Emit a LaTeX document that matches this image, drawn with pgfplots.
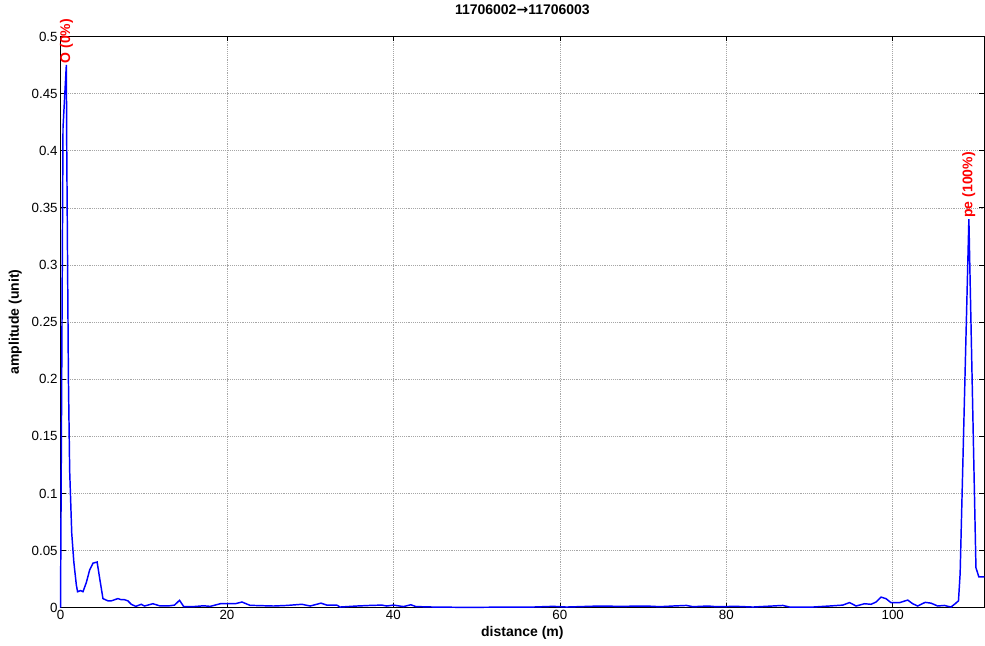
\documentclass[border=0pt]{standalone}
\usepackage{fontspec}
\setmainfont{Liberation Sans}
\newfontfamily\djv{DejaVu Sans}
\usepackage{pgfplots}
\pgfplotsset{compat=1.18}
\definecolor{mblue}{RGB}{0,0,255}
\definecolor{mred}{RGB}{255,0,0}
\begin{document}
\begin{tikzpicture}
\begin{axis}[
  scale only axis,
  width=693pt, height=428.6pt,
  xmin=0, xmax=111, ymin=0, ymax=0.5,
  xtick={0,20,40,60,80,100},
  ytick={0,0.05,0.1,0.15,0.2,0.25,0.3,0.35,0.4,0.45,0.5},
  scaled y ticks=false,
  /pgf/number format/assume math mode=true,
  yticklabel style={/pgf/number format/fixed,/pgf/number format/precision=2,font=\fontsize{10}{12}\selectfont, inner sep=2pt},
  xticklabel style={font=\fontsize{10}{12}\selectfont, inner sep=2pt},
  tick pos=both, tick align=inside,
  major tick length=3.75pt,
  tick style={black, line width=0.5pt},
  axis line style={black, line width=0.6pt},
  grid=major,
  major grid style={densely dotted, gray!70, line width=0.4pt},
  title={\bfseries 11706002{\djv\bfseries →}11706003},
  title style={at={(axis description cs:0.5,1.0333)}, anchor=center, font=\fontsize{10.5}{12}\selectfont},
  xlabel={\bfseries distance (m)},
  xlabel style={at={(axis description cs:0.5,-0.0446)}, anchor=center, font=\fontsize{10.5}{12}\selectfont},
  ylabel={\bfseries amplitude (unit)},
  ylabel style={at={(axis description cs:-0.049,0.5)}, anchor=center, font=\fontsize{10.5}{12}\selectfont},
  clip=false,
]
\addplot[mblue, line width=1.1pt] coordinates {
(0,0.0) (0.3,0.42) (0.7,0.475) (0.75,0.40) (0.95,0.20) (1.1,0.12) (1.35,0.065)
(1.6,0.04) (1.9,0.02) (2.05,0.014) (2.4,0.015) (2.7,0.014) (3.1,0.022) (3.5,0.033)
(3.9,0.039) (4.4,0.040) (4.7,0.026) (5.1,0.008) (5.7,0.006) (6.1,0.006) (6.5,0.007)
(6.9,0.008) (7.3,0.007) (7.7,0.007) (8.1,0.006) (8.5,0.003) (9.05,0.0012) (9.7,0.003)
(10.1,0.0015) (11.1,0.0035) (11.9,0.0017) (13.1,0.0017) (13.7,0.0023) (14.3,0.0065)
(14.8,0.001) (16.0,0.001) (17.2,0.0017) (18.0,0.0012) (19.2,0.0035) (20.0,0.0035)
(21.0,0.0035) (21.8,0.005) (22.8,0.002) (23.2,0.002) (25.6,0.0015) (27.2,0.002)
(29.0,0.003) (30.0,0.0015) (31.3,0.004) (32.0,0.0023) (33.2,0.0023) (33.6,0.0006)
(35.6,0.0015) (37.2,0.002) (38.6,0.0023) (39.2,0.0015) (40.0,0.0023) (41.2,0.001)
(42.1,0.0026) (42.7,0.001) (44.8,0.0006) (48.8,0.0003) (52.8,0.0005) (56.8,0.0006)
(59.2,0.0012) (60.8,0.0006) (64.8,0.0015) (67.2,0.0012) (70.4,0.0015) (72.0,0.0009)
(73.6,0.0015) (75.2,0.002) (76.0,0.0009) (77.8,0.0015) (78.8,0.0009) (81.2,0.0012)
(83.2,0.0006) (86.8,0.002) (87.6,0.0006) (90.4,0.0006) (92.4,0.0015) (94.0,0.0023)
(94.8,0.0045) (95.6,0.0015) (96.6,0.0035) (97.4,0.003) (98.0,0.005) (98.6,0.0093)
(99.2,0.0079) (99.8,0.0044) (100.8,0.0044) (101.8,0.0067) (102.4,0.0035) (103.0,0.0015)
(103.9,0.0047) (104.6,0.004) (105.4,0.0015) (106.2,0.002) (107.0,0.0006) (107.5,0.0035)
(107.9,0.006) (108.1,0.03) (109.15,0.340) (110.0,0.035) (110.35,0.027) (111.0,0.027)
};
\node[rotate=90, anchor=west, inner sep=1pt, text=mred, font=\fontsize{10.5}{12}\selectfont\bfseries] at (axis cs:0.72,0.475) {O (0\%)};
\node[rotate=90, anchor=west, inner sep=1pt, text=mred, font=\fontsize{10.5}{12}\selectfont\bfseries] at (axis cs:109.15,0.340) {pe (100\%)};
\end{axis}
\path ([xshift=-45.4pt,yshift=-28.5pt]current axis.south west) rectangle ([yshift=26.25pt]current axis.north east);
\end{tikzpicture}
\end{document}
